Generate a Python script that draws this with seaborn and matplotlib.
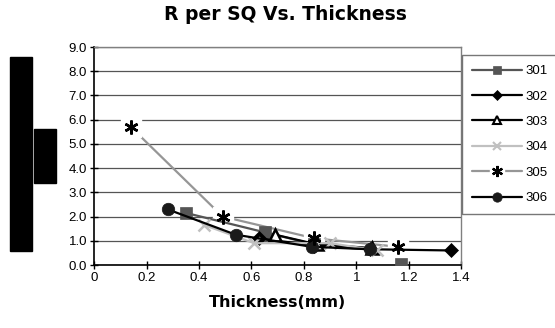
import matplotlib
matplotlib.use("Agg")
import matplotlib.pyplot as plt
import seaborn as sns
import pandas as pd
from matplotlib.patches import Rectangle

sns.set_theme(style="white")
plt.rcParams['font.family'] = ['Liberation Sans', 'DejaVu Sans']
plt.rcParams['text.color'] = 'black'
plt.rcParams['axes.labelcolor'] = 'black'
plt.rcParams['xtick.color'] = 'black'
plt.rcParams['ytick.color'] = 'black'

title = "R per SQ Vs. Thickness"
xlabel = "Thickness(mm)"
series_names = ["301", "302", "303", "304", "305", "306"]

x301 = [0.35, 0.65, 0.84, None, 1.17]
y301 = [2.15, 1.35, 0.85, None, 0.05]
x302 = [0.63, 0.84, 1.05, 1.36]
y302 = [1.10, 0.80, 0.65, 0.60]
x303 = [0.69, 0.85, 1.06]
y303 = [1.25, 0.85, 0.70]
x304 = [0.42, 0.61, 0.90, 1.08]
y304 = [1.65, 0.90, 0.90, 0.60]
x305 = [0.14, 0.49, 0.84, 1.16]
y305 = [5.70, 2.00, 1.10, 0.75]
x306 = [0.28, 0.54, 0.83, 1.05]
y306 = [2.30, 1.25, 0.75, 0.65]

xticks = [0, 0.2, 0.4, 0.6, 0.8, 1.0, 1.2, 1.4]
xticklabels = ["0", "0.2", "0.4", "0.6", "0.8", "1", "1.2", "1.4"]
yticks = [0, 1, 2, 3, 4, 5, 6, 7, 8, 9]
yticklabels = ["%.1f" % v for v in yticks]

xs = [x301, x302, x303, x304, x305, x306]
ys = [y301, y302, y303, y304, y305, y306]
styles = [
    dict(color="#555555", marker="s", mfc="#555555", mec="#555555", ms=8, mew=0.5),
    dict(color="#000000", marker="D", mfc="#000000", mec="#000000", ms=7, mew=0.5),
    dict(color="#000000", marker="^", mfc="white", mec="#000000", ms=8, mew=1.8),
    dict(color="#c0c0c0", marker="x", mfc="#c0c0c0", mec="#c0c0c0", ms=8, mew=1.8),
    dict(color="#969696", marker=(6, 2, 0), mfc="black", mec="black", ms=10, mew=1.8),
    dict(color="#000000", marker="o", mfc="#1a1a1a", mec="#1a1a1a", ms=9, mew=0.5),
]


def segments(xv, yv):
    segs, cur = [], []
    for a, b in zip(xv, yv):
        if a is None or b is None:
            if cur:
                segs.append(cur)
            cur = []
        else:
            cur.append((a, b))
    if cur:
        segs.append(cur)
    return [pd.DataFrame(s, columns=["x", "y"]) for s in segs]


fig = plt.figure(figsize=(5.55, 3.28), dpi=100)
ax = fig.add_axes([94/555, 1-265/328, (461.5-94)/555, (265-47)/328])

handles = []
for name, xv, yv, st in zip(series_names, xs, ys, styles):
    for df in segments(xv, yv):
        if name == "305":
            sns.lineplot(data=df, x="x", y="y", ax=ax, sort=False, color=st["color"], lw=1.6, zorder=2)
            ax.plot(df["x"], df["y"], linestyle="none", marker="s", ms=14, mfc="white", mec="white", zorder=2.2)
            ax.plot(df["x"], df["y"], linestyle="none", marker=st["marker"], ms=st["ms"],
                    mfc=st["mfc"], mec=st["mec"], mew=st["mew"], zorder=6)
        else:
            sns.lineplot(data=df, x="x", y="y", ax=ax, sort=False, color=st["color"], lw=1.6,
                         marker=st["marker"], markersize=st["ms"], markerfacecolor=st["mfc"],
                         markeredgecolor=st["mec"], markeredgewidth=st["mew"], zorder=4)
    if name == "305":
        h = (plt.Line2D([], [], color=st["color"], lw=1.6),
             plt.Line2D([], [], ls="none", marker="s", ms=10, mfc="white", mec="white"),
             plt.Line2D([], [], ls="none", marker=st["marker"], ms=8, mfc="black", mec="black", mew=1.6))
    else:
        h = plt.Line2D([], [], color=st["color"], lw=1.6, marker=st["marker"],
                       markersize=st["ms"]*0.75, markerfacecolor=st["mfc"],
                       markeredgecolor=st["mec"], markeredgewidth=min(st["mew"], 1.5))
    handles.append(h)

ax.set_xlim(0, 1.4)
ax.set_ylim(0, 9)
ax.set_xticks(xticks)
ax.set_xticklabels(xticklabels, fontsize=9.5)
ax.set_yticks(yticks)
ax.set_yticklabels(yticklabels, fontsize=9.5)
ax.set_xlabel(xlabel, fontsize=11.5, fontweight="bold", labelpad=8, family=["DejaVu Sans"], color="black")
ax.set_ylabel("")
ax.grid(axis="y", color="#555555", lw=0.9)
ax.grid(axis="x", visible=False)
ax.tick_params(axis="both", direction="inout", length=6, width=1, color="black", labelcolor="black",
               pad=2, bottom=True, left=True)
for s in ["left", "bottom"]:
    ax.spines[s].set_color("black")
    ax.spines[s].set_linewidth(1.2)
for s in ["top", "right"]:
    ax.spines[s].set_color("#808080")
    ax.spines[s].set_linewidth(1.0)
ax.set_axisbelow(True)

fig.text(285/555, 1-15/328, title, ha="center", va="center", fontsize=13.5, fontweight="bold",
         family=["DejaVu Sans"], color="black")

leg = fig.legend(handles, series_names, loc="upper left",
                 bbox_to_anchor=(462/555, 1-216/328, 110/555, (216-55)/328), mode="expand",
                 frameon=True, fontsize=9.5, handlelength=3.8, labelspacing=1.0,
                 borderpad=0.75, handletextpad=0.25, fancybox=False, borderaxespad=0,
                 labelcolor="black")
leg.get_frame().set_edgecolor("#555555")
leg.get_frame().set_linewidth(1.0)

fig.patches.append(Rectangle((10/555, 1-251/328), 22/555, (251-57)/328,
                             transform=fig.transFigure, color="black", zorder=5))
fig.patches.append(Rectangle((34/555, 1-183/328), 22/555, (183-129)/328,
                             transform=fig.transFigure, color="black", zorder=5))

fig.savefig("out.png", dpi=100, facecolor="white")
